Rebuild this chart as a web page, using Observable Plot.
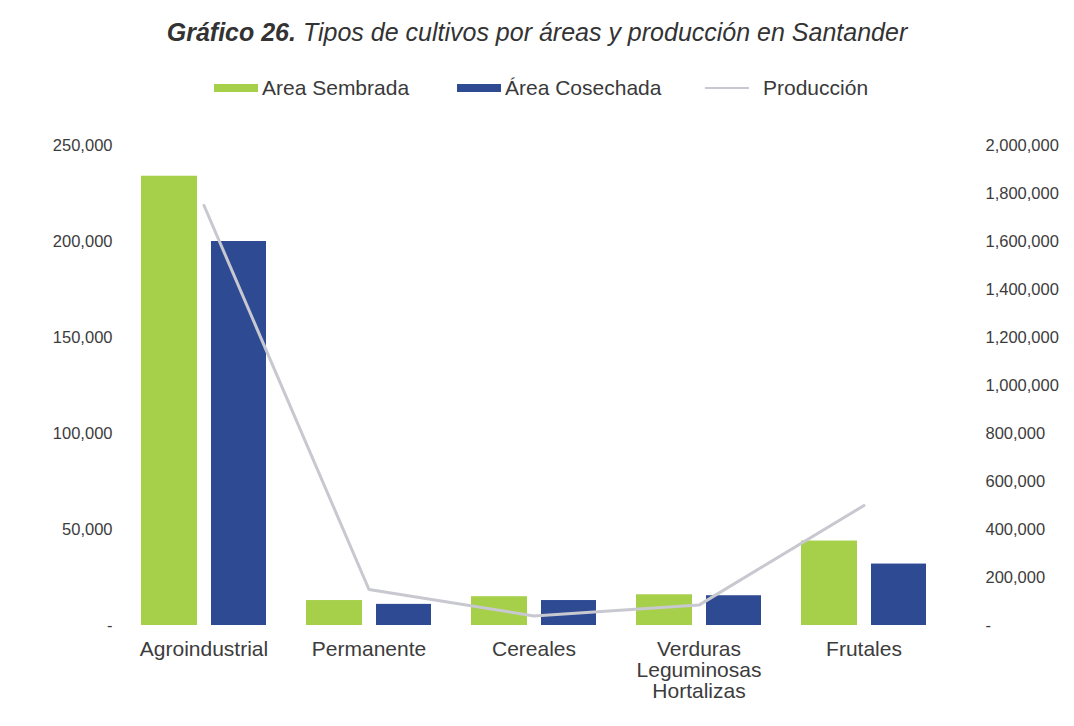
<!DOCTYPE html>
<html>
<head>
<meta charset="utf-8">
<script src="https://cdn.jsdelivr.net/npm/d3@7"></script>
<script src="https://cdn.jsdelivr.net/npm/@observablehq/plot@0.6"></script>
<style>
  html, body { margin: 0; padding: 0; background: #ffffff; }
  body { font-family: "Liberation Sans", Arial, sans-serif; color: #3c3c3c; }
  #wrap { position: relative; width: 1074px; height: 726px; overflow: hidden; }
  #title { position: absolute; top: 18px; left: 0; width: 1074px; text-align: center;
           font-size: 25px; font-style: italic; color: #333; white-space: nowrap; }
  #title b { font-weight: bold; }
  #legend { position: absolute; top: 76px; left: 0; width: 1074px; height: 24px; }
  .item { position: absolute; top: 0; display: flex; align-items: center; font-size: 21px; color: #3a3a3a; white-space: nowrap; height: 24px; }
  .sw { display: inline-block; width: 44px; height: 8px; margin-right: 4px; }
  .ln { display: inline-block; width: 44px; height: 2px; margin-right: 14px; }
  #chart { position: absolute; top: 0; left: 0; }
</style>
</head>
<body>
<div id="wrap">
  <div id="chart"></div>
  <div id="title"><b>Gráfico 26.</b> Tipos de cultivos por áreas y producción en Santander</div>
  <div id="legend"></div>
</div>
<script>
// ---- data ----
const categories = ["Agroindustrial", "Permanente", "Cereales", "Verduras\nLeguminosas\nHortalizas", "Frutales"];
const areaSembrada = [234000, 13000, 15000, 16000, 44000];
const areaCosechada = [200000, 11000, 13000, 15500, 32000];
const produccion = [1750000, 150000, 40000, 85000, 500000];
const leftTicks = [0, 50000, 100000, 150000, 200000, 250000];
const rightTicks = [0, 200000, 400000, 600000, 800000, 1000000, 1200000, 1400000, 1600000, 1800000, 2000000];
const seriesNames = ["Area Sembrada", "Área Cosechada", "Producción"];
const seriesColors = ["#a6cf4a", "#2e4a92", "#c8c8d0"];

const leftMax = 250000;
const rightMax = 2000000;
const ratio = rightMax / leftMax;

const rows = categories.map((c, i) => ({
  cat: c,
  sembrada: areaSembrada[i],
  cosechada: areaCosechada[i],
  prod: produccion[i]
}));

const fmt = d3.format(",");
const tickFmt = v => v === 0 ? "-" : fmt(v);

const chart = Plot.plot({
  width: 1074,
  height: 726,
  marginTop: 145,
  marginBottom: 101,
  marginLeft: 121,
  marginRight: 128,
  style: { fontFamily: "'Liberation Sans', Arial, sans-serif", color: "#3c3c3c", background: "#ffffff" },
  x: { type: "band", domain: categories, paddingInner: 0.242, paddingOuter: 0.121, label: null },
  y: { domain: [0, leftMax], label: null },
  marks: [
    Plot.barY(rows, { x: "cat", y: "sembrada", fill: seriesColors[0], insetRight: 69 }),
    Plot.barY(rows, { x: "cat", y: "cosechada", fill: seriesColors[1], insetLeft: 70 }),
    Plot.line(rows, { x: "cat", y: d => d.prod / ratio, stroke: seriesColors[2], strokeWidth: 3 }),
    Plot.axisY(leftTicks, { anchor: "left", tickSize: 0, tickPadding: 9, tickFormat: tickFmt, fontSize: 16.5, fill: "#3c3c3c", label: null }),
    Plot.axisY(rightTicks.map(v => v / ratio), { anchor: "right", tickSize: 0, tickPadding: 39, tickFormat: v => tickFmt(Math.round(v * ratio)), fontSize: 16.5, fill: "#3c3c3c", textAnchor: "start", label: null }),
    Plot.axisX({ anchor: "bottom", tickSize: 0, tickPadding: 16, fontSize: 21, fill: "#3c3c3c", lineHeight: 1.0, label: null })
  ]
});
document.getElementById("chart").appendChild(chart);

// ---- legend ----
const legendPos = [214, 457, 705];
const legend = document.getElementById("legend");
seriesNames.forEach((name, i) => {
  const it = document.createElement("div");
  it.className = "item";
  it.style.left = legendPos[i] + "px";
  const s = document.createElement("span");
  s.className = i === 2 ? "ln" : "sw";
  s.style.background = seriesColors[i];
  it.appendChild(s);
  it.appendChild(document.createTextNode(name));
  legend.appendChild(it);
});
</script>
</body>
</html>
